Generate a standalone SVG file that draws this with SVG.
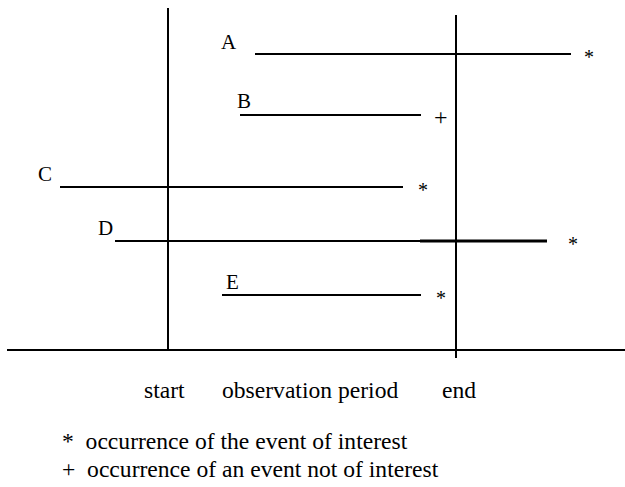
<svg xmlns="http://www.w3.org/2000/svg" width="625" height="487" viewBox="0 0 625 487">
<style>
.ln{stroke:#000;stroke-width:2;fill:none}
.thk{stroke:#000;stroke-width:3;fill:none}
</style>
<rect width="625" height="487" fill="#fff"/>
<g id="axes">
<line class="ln" x1="168" y1="8" x2="168" y2="351"/>
<line class="ln" x1="456" y1="15" x2="456" y2="358"/>
<line class="ln" x1="7" y1="350" x2="625" y2="350"/>
</g>
<g id="connectors">
<line class="ln" x1="255" y1="54" x2="571" y2="54"/>
<line class="ln" x1="240" y1="115" x2="421" y2="115"/>
<line class="ln" x1="60" y1="187" x2="403" y2="187"/>
<line class="ln" x1="115" y1="241" x2="420" y2="241"/>
<line class="thk" x1="420" y1="241" x2="547" y2="241"/>
<line class="ln" x1="222" y1="295" x2="421" y2="295"/>
</g>
<g font-family="Liberation Serif, DejaVu Serif, serif" fill="#000">
<g id="A" font-size="21"><text x="221" y="49">A</text><text x="584" y="64" font-size="20">*</text></g>
<g id="B" font-size="21"><text x="237" y="108">B</text><text x="434" y="124.5" font-size="24">+</text></g>
<g id="C" font-size="21"><text x="38" y="181">C</text><text x="418" y="197" font-size="20">*</text></g>
<g id="D" font-size="21"><text x="98" y="235">D</text><text x="568" y="251" font-size="20">*</text></g>
<g id="E" font-size="21"><text x="226" y="289">E</text><text x="436" y="305" font-size="20">*</text></g>
<g id="labels" font-size="23.6">
<text x="144" y="398">start</text>
<text x="222" y="398">observation period</text>
<text x="442" y="398">end</text>
<text x="62" y="449" xml:space="preserve">*  occurrence of the event of interest</text>
<text x="62" y="477" xml:space="preserve">+  occurrence of an event not of interest</text>
</g>
</g>
</svg>
